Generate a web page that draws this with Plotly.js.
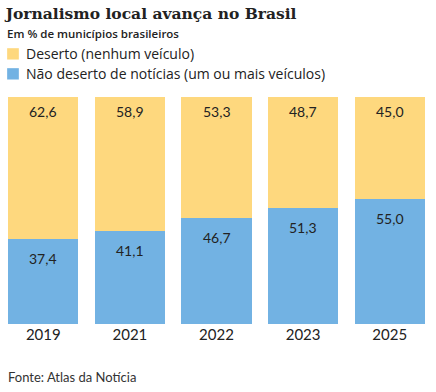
<!DOCTYPE html>
<html><head><meta charset="utf-8">
<script src="https://cdn.plot.ly/plotly-3.0.1.min.js"></script>
<style>body{margin:0;background:#fff}</style>
</head><body>
<div id="chart" style="width:436px;height:392px"></div>
<script>
const years = ["2019", "2021", "2022", "2023", "2025"];
const naoDeserto = [37.4, 41.1, 46.7, 51.3, 55.0];
const deserto = [62.6, 58.9, 53.3, 48.7, 45.0];
const seriesNames = ["Não deserto de notícias (um ou mais veículos)", "Deserto (nenhum veículo)"];
const colors = ['#72B2E3', '#FED87E'];

const fmt = v => v.toFixed(1).replace('.', ',');
const FONT = "Lato, 'Open Sans', sans-serif";
const FONT2 = "'Open Sans', Lato, sans-serif";

const traces = [
  {type:'bar', x: years, y: naoDeserto, name: seriesNames[0],
   marker:{color:colors[0]}, hoverinfo:'skip'},
  {type:'bar', x: years, y: deserto, name: seriesNames[1],
   marker:{color:colors[1]}, hoverinfo:'skip'}
];

// category index positions for annotations
const labelAnns = [];
years.forEach((yr, i) => {
  labelAnns.push({x: i, y: naoDeserto[i], xref:'x', yref:'y', yanchor:'top', yshift:-9,
    text: fmt(naoDeserto[i]), showarrow:false, font:{family:FONT, size:14, color:'#222'}});
  labelAnns.push({x: i, y: naoDeserto[i] + deserto[i], xref:'x', yref:'y', yanchor:'top', yshift:-4,
    text: fmt(deserto[i]), showarrow:false, font:{family:FONT, size:14, color:'#222'}});
});

// manual legend (Deserto first, then Não deserto)
const legendItems = [
  {name: seriesNames[1], color: colors[1], y: 1.19},
  {name: seriesNames[0], color: colors[0], y: 1.102}
];
const legendShapes = legendItems.map(it => ({type:'rect', xref:'paper', yref:'paper',
  x0:0.0165, x1:0.0435, y0:it.y - 0.025, y1:it.y + 0.025, line:{width:0}, fillcolor:it.color}));
const legendAnns = legendItems.map(it => ({text: it.name, xref:'paper', yref:'paper', x:0.055, xanchor:'left',
  y: it.y, yanchor:'middle', showarrow:false, font:{family:FONT2, size:14, color:'#222'}}));

const layout = {
  width:436, height:392,
  margin:{l:0, r:3, t:97, b:68},
  barmode:'stack', bargap:0.19,
  paper_bgcolor:'#fff', plot_bgcolor:'#fff',
  font:{family:FONT, color:'#222'},
  showlegend:false,
  title:{text:'<b>Jornalismo local avança no Brasil</b>', x:0.013, xanchor:'left', y:0.978, yanchor:'top',
    font:{family:"'DejaVu Serif', serif", size:15.5, color:'#222'}},
  xaxis:{type:'category', categoryarray: years, range:[-0.5, 4.5], autorange:false,
    showgrid:false, zeroline:false, showline:false, ticks:'',
    tickfont:{family:FONT, size:15, color:'#222'}, fixedrange:true},
  yaxis:{range:[0,100], visible:false, fixedrange:true},
  shapes: legendShapes,
  annotations:[
    {text:'Em % de municípios brasileiros', xref:'paper', yref:'paper', x:0.012, xanchor:'left',
     y:1.279, yanchor:'middle', showarrow:false, font:{family:"'Open Sans', sans-serif", size:11.5, weight:600, color:'#222'}},
    {text:'Fonte: Atlas da Notícia', xref:'paper', yref:'paper', x:0.015, xanchor:'left',
     y:-0.235, yanchor:'middle', showarrow:false, font:{family:FONT, size:13, color:'#333'}}
  ].concat(legendAnns, labelAnns)
};
Plotly.newPlot('chart', traces, layout, {displayModeBar:false, staticPlot:true});
</script>
</body></html>
